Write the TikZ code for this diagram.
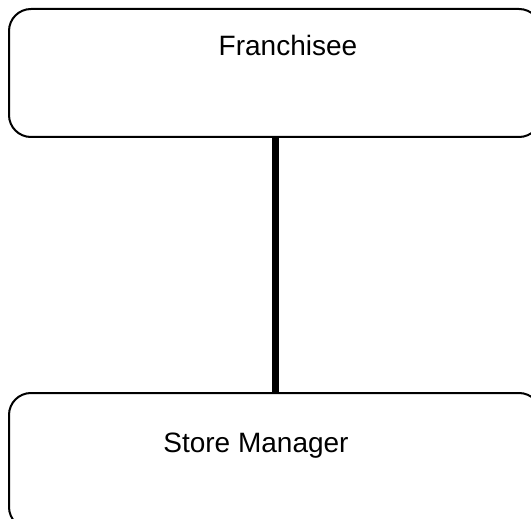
\documentclass[tikz,border=0pt]{standalone}
\usepackage{fontspec}
\setmainfont{Liberation Sans}
\usetikzlibrary{positioning,shapes}

\begin{document}
\begin{tikzpicture}[x = .5pt, y = -.5pt,
    box/.style = {draw, rounded corners = 11pt, line width = 1pt, minimum width = 266pt, minimum height = 64pt, inner sep = 0pt},
    lbl/.style = {font = \fontsize{14}{16}\selectfont, inner sep = 0pt}]
    \useasboundingbox (0,0) rectangle (531,519);
    \clip (0,0) rectangle (531,519);
    \node[box] (franchisee) at (275,73) {};
    \node[box, minimum height = 68pt] (manager) at (275,461) {};
    \node[lbl] (franchiseeText) at (288,45) {Franchisee};
    \node[lbl] (managerText) at (256,446) {Store Manager};
    \draw[line width = 3.5pt] (franchisee.south) -- (manager.north);
    \end{tikzpicture}
\end{document}
